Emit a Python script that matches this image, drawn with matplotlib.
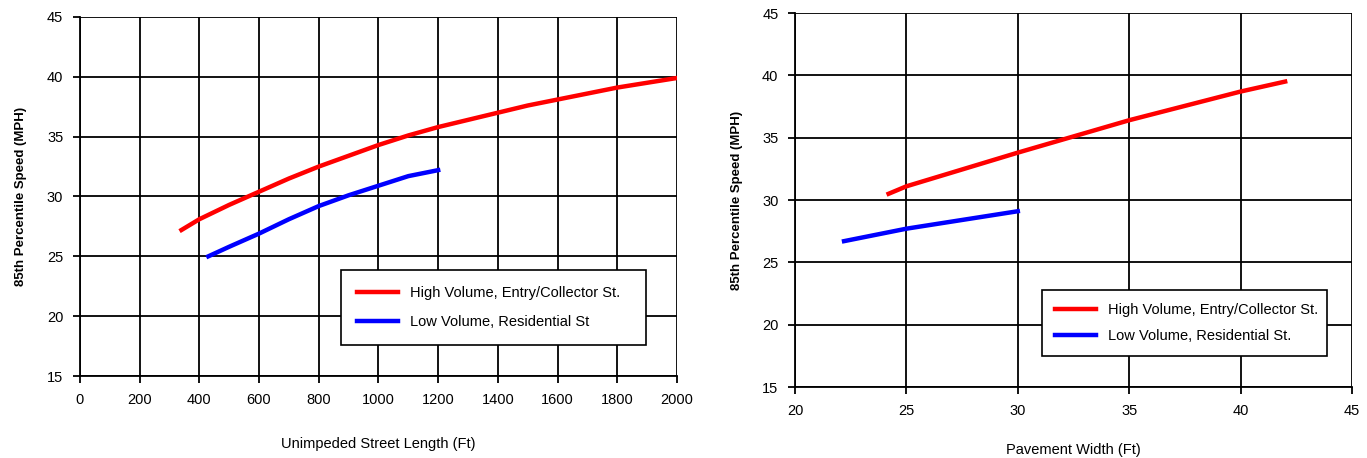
import matplotlib.pyplot as plt
import numpy as np

# Left chart: speed vs unimpeded street length
length_high = [340, 400, 500, 600, 700, 800, 900, 1000, 1100, 1200, 1300, 1400,
               1500, 1600, 1700, 1800, 1900, 2000]
speed_high_len = [27.2, 28.1, 29.3, 30.4, 31.5, 32.5, 33.4, 34.3, 35.1, 35.8, 36.4, 37.0,
                  37.6, 38.1, 38.6, 39.1, 39.5, 39.9]
length_low = [430, 500, 600, 700, 800, 900, 1000, 1100, 1200]
speed_low_len = [25.0, 25.8, 26.9, 28.1, 29.2, 30.1, 30.9, 31.7, 32.2]

# Right chart: speed vs pavement width
width_high = [24.2, 25, 30, 35, 40, 42]
speed_high_w = [30.5, 31.1, 33.8, 36.4, 38.7, 39.5]
width_low = [22.2, 25, 30]
speed_low_w = [26.7, 27.7, 29.1]

labels_left = ["High Volume, Entry/Collector St.", "Low Volume, Residential St"]
labels_right = ["High Volume, Entry/Collector St.", "Low Volume, Residential St."]

plt.rcParams["font.family"] = ["Liberation Sans", "DejaVu Sans"]

fig = plt.figure(figsize=(13.67, 4.58), dpi=100)
ax1 = fig.add_axes([0.0585, 0.179, 0.4367, 0.784])
ax2 = fig.add_axes([0.5816, 0.155, 0.4074, 0.8166])


def style(ax, xlabel, pad):
    ax.grid(True, color="black", linewidth=1.3)
    ax.set_axisbelow(True)
    for s in ["top", "right"]:
        ax.spines[s].set_visible(False)
    for s in ["left", "bottom"]:
        ax.spines[s].set_linewidth(1.3)
    ax.tick_params(direction="out", length=5, width=1.3, pad=7, labelsize=10.5)
    ax.set_ylim(15, 45)
    ax.set_yticks(np.arange(15, 46, 5))
    ax.set_ylabel("85th Percentile Speed (MPH)", fontweight="bold", fontsize=9.5, labelpad=14)
    ax.set_xlabel(xlabel, fontsize=10.5, labelpad=pad)


ax1.plot(length_high, speed_high_len, color="red", linewidth=3.2, label=labels_left[0])
ax1.plot(length_low, speed_low_len, color="blue", linewidth=3.2, label=labels_left[1])
ax1.set_xlim(0, 2000)
ax1.set_xticks(np.arange(0, 2001, 200))
style(ax1, "Unimpeded Street Length (Ft)", 22)
leg1 = ax1.legend(loc="lower left", bbox_to_anchor=(0.425, 0.067, 0.536, 0.206),
                  mode="expand", fancybox=False, framealpha=1, edgecolor="black",
                  handlelength=2.8, borderpad=1.1, labelspacing=1.0, fontsize=10.5)
leg1.get_frame().set_linewidth(1.2)

ax2.plot(width_high, speed_high_w, color="red", linewidth=3.2, label=labels_right[0])
ax2.plot(width_low, speed_low_w, color="blue", linewidth=3.2, label=labels_right[1])
ax2.set_xlim(20, 45)
ax2.set_xticks(np.arange(20, 46, 5))
style(ax2, "Pavement Width (Ft)", 18)
leg2 = ax2.legend(loc="lower left", bbox_to_anchor=(0.431, 0.064, 0.538, 0.187),
                  mode="expand", fancybox=False, framealpha=1, edgecolor="black",
                  handlelength=2.8, borderpad=0.9, labelspacing=0.8, fontsize=10.5)
leg2.get_frame().set_linewidth(1.2)

fig.savefig("out.png", dpi=100)
